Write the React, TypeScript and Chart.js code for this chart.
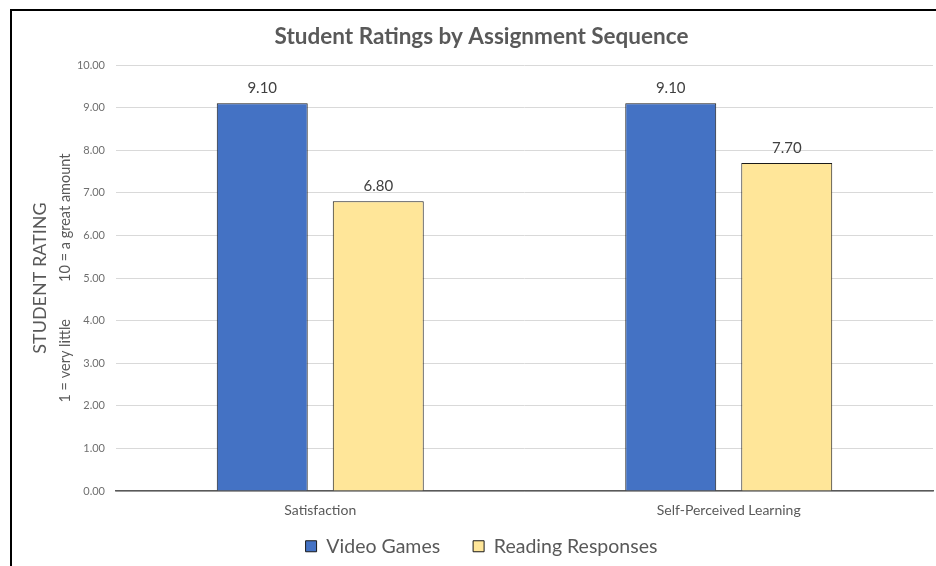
import React, { useEffect, useRef } from "react";
import { Chart, registerables } from "chart.js";

Chart.register(...registerables);

const categories = ["Satisfaction", "Self-Perceived Learning"];
const videoGames = [9.1, 9.1];
const readingResponses = [6.8, 7.7];
const seriesNames = ["Video Games", "Reading Responses"];
const chartTitle = "Student Ratings by Assignment Sequence";
const yTitleMain = "STUDENT RATING";
const yTitleSub = "1 = very little          10 = a great amount";

const FONT = "Lato, 'Liberation Sans', sans-serif";

const dataLabelPlugin = {
  id: "dataLabels",
  afterDatasetsDraw(chart: any) {
    const ctx = chart.ctx;
    ctx.save();
    ctx.font = `15px ${FONT}`;
    ctx.fillStyle = "#404040";
    ctx.textAlign = "center";
    ctx.textBaseline = "alphabetic";
    chart.data.datasets.forEach((ds: any, i: number) => {
      const meta = chart.getDatasetMeta(i);
      meta.data.forEach((bar: any, j: number) => {
        const v = ds.data[j] as number;
        ctx.fillText(v.toFixed(2), bar.x, bar.y - 10);
      });
    });
    ctx.restore();
  },
};

const yMainTitlePlugin = {
  id: "yMainTitle",
  afterDraw(chart: any) {
    const ctx = chart.ctx;
    const area = chart.chartArea;
    ctx.save();
    ctx.translate(28, (area.top + area.bottom) / 2);
    ctx.rotate(-Math.PI / 2);
    ctx.font = `18px ${FONT}`;
    ctx.fillStyle = "#595959";
    ctx.textAlign = "center";
    ctx.textBaseline = "middle";
    ctx.fillText(yTitleMain, 0, 0);
    ctx.restore();
  },
};

export default function App() {
  const canvasRef = useRef<HTMLCanvasElement | null>(null);

  useEffect(() => {
    if (!canvasRef.current) return;
    const chart = new Chart(canvasRef.current, {
      type: "bar",
      data: {
        labels: categories,
        datasets: [
          {
            label: seriesNames[0],
            data: videoGames,
            backgroundColor: "#4472C4",
            borderColor: "#1a1a1a",
            borderWidth: 1,
            categoryPercentage: 0.568,
            barPercentage: 0.784,
          },
          {
            label: seriesNames[1],
            data: readingResponses,
            backgroundColor: "#FFE699",
            borderColor: "#1a1a1a",
            borderWidth: 1,
            categoryPercentage: 0.568,
            barPercentage: 0.784,
          },
        ],
      },
      options: {
        responsive: false,
        animation: false,
        layout: { padding: { left: 18, right: 11, top: 0, bottom: 0 } },
        plugins: {
          title: {
            display: true,
            text: chartTitle,
            color: "#595959",
            font: { family: FONT, size: 22.5, weight: "bold" },
            padding: { top: 12, bottom: 15 },
          },
          legend: {
            display: true,
            position: "bottom",
            labels: {
              color: "#595959",
              font: { family: FONT, size: 19.5 },
              boxWidth: 11,
              boxHeight: 11,
              padding: 8,
              generateLabels: (chart: any) => {
                const items = Chart.defaults.plugins.legend.labels.generateLabels(chart);
                return items.map((it: any, i: number) =>
                  i < items.length - 1 ? { ...it, text: it.text + "     " } : it
                );
              },
            },
          },
          tooltip: { enabled: false },
        },
        scales: {
          x: {
            grid: { display: false, drawTicks: false },
            border: { display: true, color: "#595959", width: 1.5 },
            ticks: {
              color: "#595959",
              font: { family: FONT, size: 14 },
              padding: 11,
            },
            afterFit: (scale: any) => {
              scale.height = 37.5;
            },
          },
          y: {
            min: 0,
            max: 10,
            ticks: {
              stepSize: 1,
              color: "#6f6f6f",
              font: { family: FONT, size: 11 },
              padding: 11,
              callback: (v: any) => Number(v).toFixed(2),
            },
            grid: { color: "#d9d9d9", drawTicks: false },
            border: { display: false },
            title: {
              display: true,
              text: yTitleSub,
              color: "#595959",
              font: { family: FONT, size: 14.5 },
              padding: { top: 27, bottom: 0 },
            },
            afterFit: (scale: any) => {
              scale.width = 86;
            },
          },
        },
      },
      plugins: [dataLabelPlugin, yMainTitlePlugin],
    });
    return () => chart.destroy();
  }, []);

  return (
    <div
      style={{
        position: "fixed",
        left: 0,
        top: 0,
        width: 936,
        height: 566,
        overflow: "hidden",
        background: "#fff",
      }}
    >
      <div
        style={{
          position: "absolute",
          left: 10,
          top: 9,
          width: 940,
          height: 570,
          borderLeft: "2px solid #000",
          borderTop: "2px solid #000",
        }}
      >
        <canvas ref={canvasRef} width={932} height={555} style={{ display: "block" }} />
      </div>
    </div>
  );
}
